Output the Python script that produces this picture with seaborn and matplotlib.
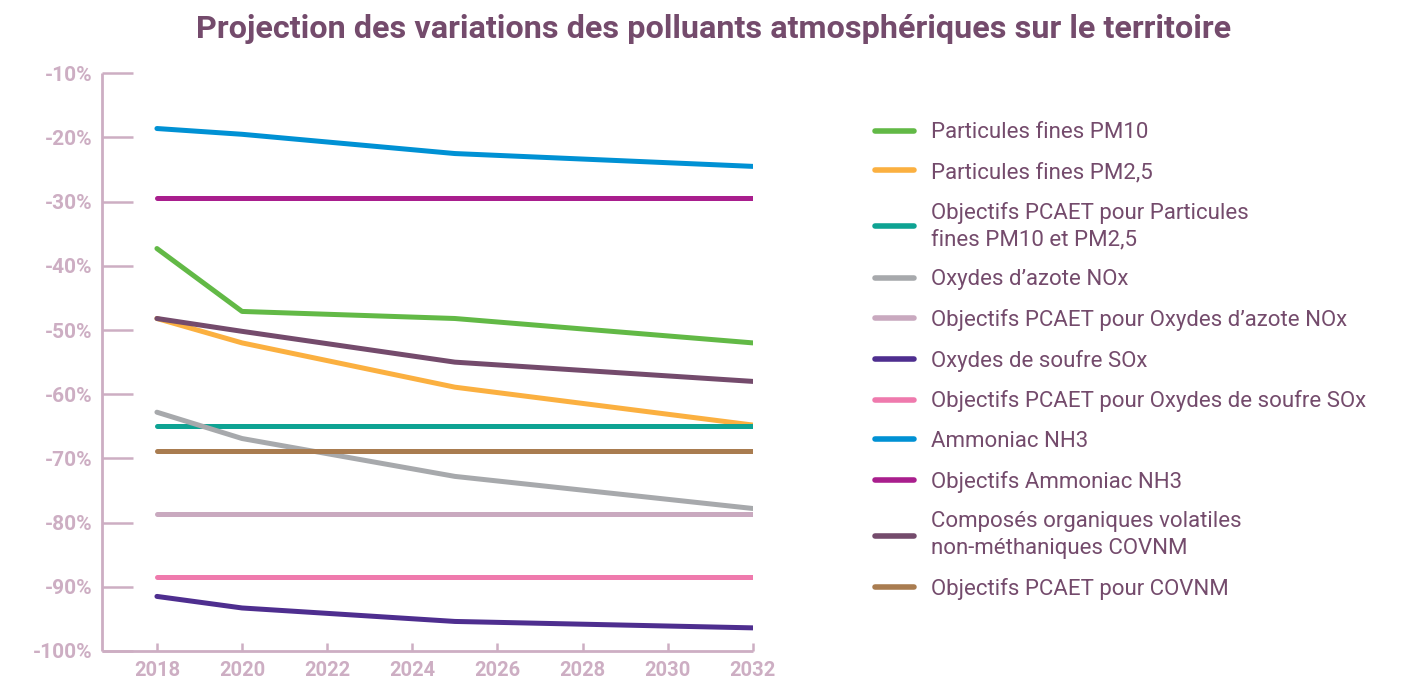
import pandas as pd
import matplotlib.pyplot as plt
import seaborn as sns

# Years where the projection has values
years = [2018, 2020, 2025, 2032]

# Series (% variation)
pm10 = [-37.3, -47.1, -48.2, -52.0]
pm25 = [-48.2, -52.0, -58.9, -64.8]
obj_pm = [-65.0, -65.0, -65.0, -65.0]
nox = [-62.8, -66.9, -72.8, -77.8]
obj_nox = [-78.7, -78.7, -78.7, -78.7]
sox = [-91.5, -93.3, -95.4, -96.4]
obj_sox = [-88.5, -88.5, -88.5, -88.5]
nh3 = [-18.6, -19.5, -22.5, -24.5]
obj_nh3 = [-29.5, -29.5, -29.5, -29.5]
covnm = [-48.2, -50.2, -55.0, -58.0]
obj_covnm = [-68.9, -68.9, -68.9, -68.9]

labels = [
    "Particules fines PM10",
    "Particules fines PM2,5",
    "Objectifs PCAET pour Particules\nfines PM10 et PM2,5",
    "Oxydes d\u2019azote NOx",
    "Objectifs PCAET pour Oxydes d\u2019azote NOx",
    "Oxydes de soufre SOx",
    "Objectifs PCAET pour Oxydes de soufre SOx",
    "Ammoniac NH3",
    "Objectifs Ammoniac NH3",
    "Composés organiques volatiles\nnon-méthaniques COVNM",
    "Objectifs PCAET pour COVNM",
]
series = [pm10, pm25, obj_pm, nox, obj_nox, sox, obj_sox, nh3, obj_nh3, covnm, obj_covnm]
colors = ["#62b946", "#fbb040", "#0ea393", "#a7a9ac", "#c9a9bf", "#4e2e8f",
          "#ef7aad", "#0091d4", "#a91e8d", "#744b6c", "#a97c50"]

# Long format table for seaborn
rows = []
for lab, vals in zip(labels, series):
    for yr, v in zip(years, vals):
        rows.append({"Année": yr, "Variation": v, "Polluant": lab})
df = pd.DataFrame(rows)

sns.set_style("white")
plt.rcParams["font.family"] = ["Roboto", "DejaVu Sans"]

axis_col = "#cdaec3"
text_col = "#744b6c"

fig = plt.figure(figsize=(14.27, 6.82), dpi=100)
ax = fig.add_axes([0.0715, 0.0455, 0.456, 0.847])

sns.lineplot(data=df, x="Année", y="Variation", hue="Polluant",
             hue_order=labels, palette=dict(zip(labels, colors)),
             linewidth=3.6, ax=ax, legend=True)
for line in ax.get_lines():
    line.set_solid_capstyle("round")
    line.set_solid_joinstyle("round")

ax.set_xlim(2016.71, 2032)
ax.set_ylim(-100, -10)
ax.set_xticks(range(2018, 2033, 2))
ax.set_yticks(range(-100, -9, 10))
ax.set_yticklabels([f"{v}%" for v in range(-100, -9, 10)])
ax.set_xlabel("")
ax.set_ylabel("")

for s in ["top", "right"]:
    ax.spines[s].set_visible(False)
for s in ["left", "bottom"]:
    ax.spines[s].set_color(axis_col)
    ax.spines[s].set_linewidth(2.0)
    ax.spines[s].set_capstyle("butt")

ax.tick_params(axis="y", direction="in", length=22, width=1.8, color=axis_col,
               labelcolor=axis_col, labelsize=15, pad=7, left=True)
ax.tick_params(axis="x", direction="in", length=6, width=1.8, color=axis_col,
               labelcolor=axis_col, labelsize=14.5, pad=7, bottom=True)
for t in ax.get_xticklabels() + ax.get_yticklabels():
    t.set_fontweight("bold")

handles, labs = ax.get_legend_handles_labels()
leg = ax.legend(handles, labs, loc="upper left", bbox_to_anchor=(0.599, 0.850),
                bbox_transform=fig.transFigure, frameon=False, fontsize=16,
                handlelength=1.75, handletextpad=0.8, labelspacing=0.84)
for t in leg.get_texts():
    t.set_color(text_col)
    t.set_linespacing(1.38)
for h in leg.get_lines():
    h.set_linewidth(4)
    h.set_solid_capstyle("round")

fig.text(0.5, 0.958, "Projection des variations des polluants atmosphériques sur le territoire",
         ha="center", va="center", fontsize=23.3, fontweight="bold", color=text_col)

fig.savefig("out.png", dpi=100)
